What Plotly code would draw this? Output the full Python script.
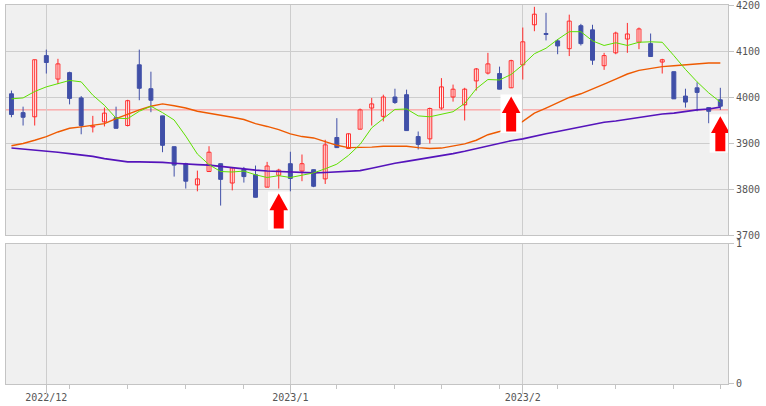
import plotly.graph_objects as go

# ---------------- data ----------------
dates = [
    "2022-11-28", "2022-11-29", "2022-11-30", "2022-12-01", "2022-12-02",
    "2022-12-05", "2022-12-06", "2022-12-07", "2022-12-08", "2022-12-09",
    "2022-12-12", "2022-12-13", "2022-12-14", "2022-12-15", "2022-12-16",
    "2022-12-19", "2022-12-20", "2022-12-21", "2022-12-22", "2022-12-23",
    "2022-12-26", "2022-12-27", "2022-12-28", "2022-12-29", "2022-12-30",
    "2023-01-04", "2023-01-05", "2023-01-06", "2023-01-10", "2023-01-11",
    "2023-01-12", "2023-01-13", "2023-01-16", "2023-01-17", "2023-01-18",
    "2023-01-19", "2023-01-20", "2023-01-23", "2023-01-24", "2023-01-25",
    "2023-01-26", "2023-01-27", "2023-01-30", "2023-01-31", "2023-02-01",
    "2023-02-02", "2023-02-03", "2023-02-06", "2023-02-07", "2023-02-08",
    "2023-02-09", "2023-02-10", "2023-02-13", "2023-02-14", "2023-02-15",
    "2023-02-16", "2023-02-17", "2023-02-20", "2023-02-21", "2023-02-22",
    "2023-02-24", "2023-02-27",
]

opens = [4007, 3966, 3957, 4090, 4039, 4053, 3998, 3935, 3946, 3955,
         3938, 4070, 4018, 3959, 3892, 3855, 3809, 3838, 3855, 3813,
         3843, 3831, 3804, 3830, 3855, 3839, 3842, 3822, 3912, 3888,
         3930, 3976, 3958, 4000, 4005, 3914, 3909, 3976, 4000, 3983,
         4035, 4052, 4051, 4020, 4070, 4157, 4138, 4122, 4105, 4155,
         4146, 4068, 4096, 4126, 4119, 4116, 4076, 4055, 4002, 4020,
         3977, 3994]
highs = [4014, 3979, 4081, 4103, 4083, 4055, 4002, 3959, 3977, 3979,
         3994, 4103, 4055, 3959, 3892, 3857, 3840, 3893, 3855, 3847,
         3848, 3851, 3859, 3844, 3881, 3875, 3842, 3907, 3954, 3921,
         3975, 3998, 4005, 4018, 4016, 3925, 3977, 4041, 4027, 4020,
         4063, 4096, 4066, 4081, 4151, 4196, 4183, 4126, 4179, 4159,
         4157, 4096, 4142, 4161, 4151, 4138, 4083, 4055, 4018, 4032,
         3978, 4020]
lows = [3956, 3938, 3938, 4051, 4028, 3984, 3919, 3923, 3936, 3932,
        3936, 3993, 3967, 3880, 3827, 3801, 3795, 3838, 3764, 3797,
        3814, 3782, 3804, 3801, 3795, 3817, 3804, 3811, 3890, 3888,
        3930, 3938, 3947, 3985, 3927, 3886, 3899, 3972, 3990, 3949,
        4014, 4049, 4017, 4020, 4038, 4143, 4123, 4093, 4089, 4112,
        4070, 4059, 4093, 4096, 4104, 4088, 4051, 3996, 3977, 3969,
        3943, 3972]
closes = [3962, 3956, 4081, 4075, 4072, 3997, 3938, 3937, 3965, 3932,
          3992, 4019, 3993, 3895, 3852, 3817, 3822, 3880, 3821, 3846,
          3827, 3782, 3850, 3841, 3823, 3855, 3806, 3896, 3890, 3920,
          3972, 3985, 4000, 3988, 3927, 3897, 3975, 4022, 4017, 4017,
          4061, 4072, 4017, 4079, 4120, 4180, 4136, 4111, 4165, 4116,
          4080, 4090, 4139, 4137, 4148, 4088, 4081, 3996, 3989, 4010,
          3969, 3980]

ma_short = [3996, 3998, 4012, 4022, 4029, 4036, 4033, 4004, 3982, 3954,
            3953, 3969, 3980, 3966, 3950, 3915, 3876, 3853, 3838, 3837,
            3839, 3831, 3825, 3829, 3825, 3830, 3835, 3844, 3854, 3873,
            3897, 3933, 3953, 3973, 3974, 3959, 3957, 3962, 3968, 3986,
            4018, 4038, 4037, 4049, 4070, 4094, 4106, 4125, 4142, 4142,
            4122, 4112, 4118, 4112, 4119, 4120, 4119, 4090, 4060, 4033,
            4009, 3989]
ma_mid = [3894, 3899, 3906, 3914, 3924, 3932, 3935, 3938, 3942, 3953,
          3963, 3972, 3980, 3985, 3981, 3976, 3969, 3965, 3961, 3956,
          3951, 3942, 3936, 3929, 3920, 3914, 3911, 3903, 3895, 3890,
          3890, 3891, 3893, 3893, 3893, 3890, 3888, 3889, 3893, 3898,
          3906, 3918, 3925, 3933, 3947, 3965, 3976, 3987, 3999, 4007,
          4017, 4028, 4039, 4050, 4058, 4062, 4066, 4068, 4070, 4072,
          4074, 4074]
ma_long = [3889, 3887, 3884, 3882, 3880, 3877, 3874, 3871, 3866, 3862,
           3859, 3859, 3859, 3858, 3856, 3854, 3853, 3852, 3849, 3846,
           3844, 3841, 3839, 3838, 3837, 3836, 3835, 3836, 3837, 3838,
           3840, 3845, 3851, 3856, 3860, 3864, 3869, 3873, 3877, 3882,
           3888, 3894, 3900, 3905, 3909, 3915, 3920, 3925, 3930, 3936,
           3941, 3945, 3948, 3952, 3956, 3960, 3963, 3965, 3969, 3972,
           3974, 3978]

ref_price = 3972

signal_idx = [23, 43, 61]
signal_price = [3790, 4001, 3958]

month_tick_idx = [3, 24, 44]
month_tick_text = ["2022/12", "2023/1", "2023/2"]
week_tick_idx = [5, 10, 15, 20, 28, 33, 37, 42, 47, 52, 57, 61]

price_ticks = [3700, 3800, 3900, 4000, 4100, 4200]

# ---------------- style ----------------
UP = "#ff2a2a"
DOWN = "#4050a8"
GREEN = "#5ee000"
ORANGE = "#ee5a00"
PURPLE = "#5514bb"
GRID = "#cdcdcd"
BORDER = "#c4c4c4"
BG = "#f0f0f0"
FONT = dict(family="DejaVu Sans Mono", size=10, color="#555555")

n = len(closes)
xs = list(range(n))
up = [c >= o for o, c in zip(opens, closes)]

fig = go.Figure()

# wicks
for flag, col in ((True, UP), (False, DOWN)):
    wx, wy = [], []
    for i in xs:
        if up[i] == flag:
            wx += [i, i, None]
            wy += [lows[i], highs[i], None]
    fig.add_trace(go.Scatter(x=wx, y=wy, mode="lines",
                             line=dict(color=col, width=1),
                             hoverinfo="skip", showlegend=False))

# bodies
for flag, col, fill in ((True, UP, "#ffffff"), (False, DOWN, DOWN)):
    bx = [i for i in xs if up[i] == flag]
    base = [min(opens[i], closes[i]) for i in bx]
    hgt = [max(abs(closes[i] - opens[i]), 1) for i in bx]
    fig.add_trace(go.Bar(x=bx, y=hgt, base=base, width=0.34,
                         marker=dict(color=fill, line=dict(color=col, width=1)),
                         hovertext=[dates[i] for i in bx],
                         showlegend=False))

# moving averages
for series, col, w in ((ma_long, PURPLE, 1.6), (ma_mid, ORANGE, 1.4), (ma_short, GREEN, 1)):
    fig.add_trace(go.Scatter(x=xs, y=series, mode="lines",
                             line=dict(color=col, width=w),
                             hoverinfo="skip", showlegend=False))

# signal arrows (white backing box + red up arrow)
for i, p in zip(signal_idx, signal_price):
    fig.add_trace(go.Scatter(
        x=[i - 0.92, i + 0.92, i + 0.92, i - 0.92, i - 0.92],
        y=[p + 4.5, p + 4.5, p - 79, p - 79, p + 4.5],
        mode="lines", fill="toself", fillcolor="#ffffff",
        line=dict(width=0, color="#ffffff"), hoverinfo="skip", showlegend=False))
    fig.add_trace(go.Scatter(
        x=[i, i + 0.8, i + 0.43, i + 0.43, i - 0.43, i - 0.43, i - 0.8, i],
        y=[p, p - 36, p - 36, p - 76, p - 76, p - 36, p - 36, p],
        mode="lines", fill="toself", fillcolor="#ff0000",
        line=dict(width=0, color="#ff0000"), hoverinfo="skip", showlegend=False))

# lower (empty) panel and its extra tick axes
for ax in ("x2", "x3", "x4"):
    fig.add_trace(go.Scatter(x=[None], y=[None], xaxis=ax, yaxis="y2",
                             showlegend=False, hoverinfo="skip"))

fig.add_shape(type="line", xref="x domain", x0=0, x1=1, yref="y",
              y0=ref_price, y1=ref_price, line=dict(color="#ff8a8a", width=1),
              layer="below")

xr = [-0.47, 61.66]
common_x = dict(range=xr, tickmode="array", tickvals=month_tick_idx,
                showgrid=True, gridcolor=GRID, gridwidth=1, zeroline=False,
                showline=True, mirror=True, linecolor=BORDER, linewidth=1)
tick_only = dict(range=xr, domain=[0, 1], anchor="y2", overlaying="x2", side="bottom",
                 tickmode="array", ticks="outside", tickcolor=BORDER, showgrid=False,
                 zeroline=False, showline=False, showticklabels=False)

fig.update_layout(
    width=766, height=406,
    margin=dict(l=6, r=38, t=5, b=22, autoexpand=False),
    paper_bgcolor="#ffffff", plot_bgcolor=BG,
    barmode="overlay", showlegend=False, font=FONT,
    xaxis=dict(**common_x, domain=[0, 1], anchor="y", showticklabels=False, ticks=""),
    xaxis2=dict(**common_x, domain=[0, 1], anchor="y2",
                ticktext=month_tick_text, showticklabels=True,
                ticks="outside", ticklen=4, tickcolor=BORDER, tickfont=FONT,
                ticklabeloverflow="allow"),
    xaxis3=dict(**tick_only, tickvals=week_tick_idx, ticklen=4),
    xaxis4=dict(**tick_only, tickvals=month_tick_idx, ticklen=9),
    yaxis=dict(domain=[0.3931, 1], range=[3700, 4200], side="right",
               tickmode="array", tickvals=price_ticks, ticks="outside", ticklen=5,
               tickcolor=BORDER, showgrid=True, gridcolor=GRID, zeroline=False,
               showline=True, mirror=True, linecolor=BORDER, tickfont=FONT,
               ticklabeloverflow="allow"),
    yaxis2=dict(domain=[0, 0.3694], range=[0, 1], side="right", anchor="x2",
                tickmode="array", tickvals=[0, 1], ticks="outside", ticklen=5,
                tickcolor=BORDER, showgrid=False, zeroline=False,
                showline=True, mirror=True, linecolor=BORDER, tickfont=FONT,
                ticklabeloverflow="allow"),
)

fig.write_html("out.html", config={"displayModeBar": False},
               post_script="document.body.style.margin='0';document.body.style.padding='0';")
